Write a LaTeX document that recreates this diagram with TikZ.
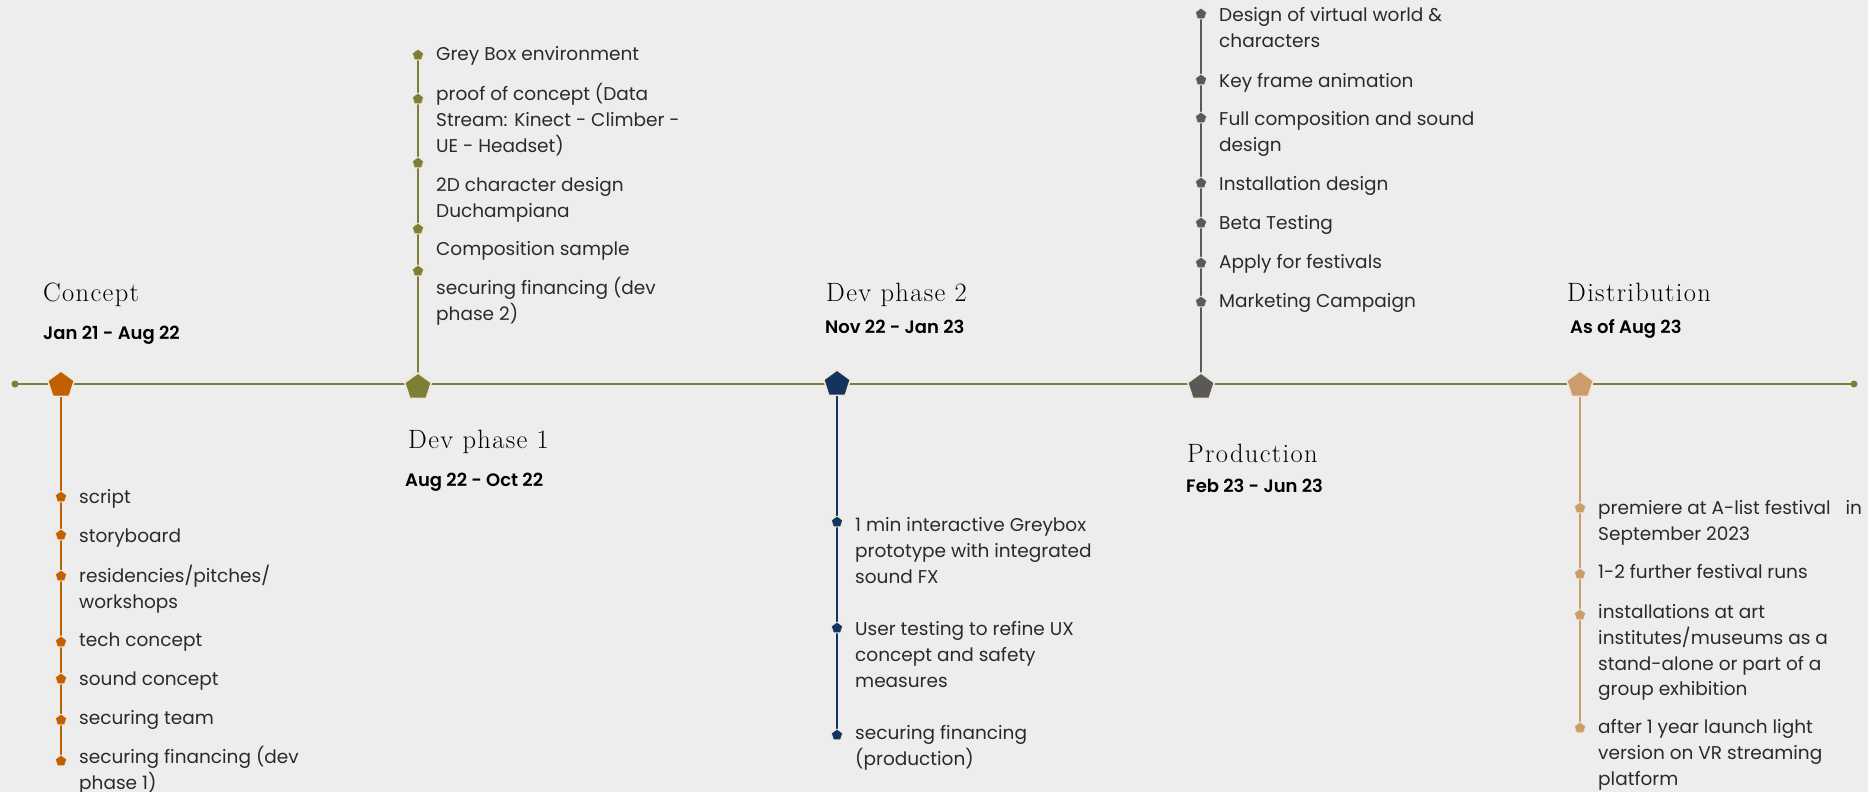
\documentclass[tikz,border=0pt]{standalone}
\usepackage{fontspec}
\setmainfont{Poppins}
\newfontfamily\datefont{Poppins SemiBold}
\newfontfamily\titlefont{Latin Modern Roman}[LetterSpace=5]
\usetikzlibrary{shapes.geometric}
\definecolor{bgc}{HTML}{EDEDED}
\definecolor{olivec}{HTML}{7E7F37}
\definecolor{orangec}{HTML}{C06000}
\definecolor{navyc}{HTML}{12345F}
\definecolor{greyc}{HTML}{595959}
\definecolor{tanc}{HTML}{CC9D6C}
\definecolor{rimc}{HTML}{F2E6D8}
\definecolor{txtc}{HTML}{2A2A2A}
\pgfdeclarelayer{bg}
\pgfsetlayers{bg,main}
\begin{document}
\begin{tikzpicture}[x=1pt,y=-1pt,
  phasebig/.style={regular polygon, regular polygon sides=5, minimum size=28pt, inner sep=0pt, draw=rimc, line width=1.5pt, fill=#1},
  phasemk/.style={regular polygon, regular polygon sides=5, minimum size=12pt, inner sep=0pt, draw=rimc, line width=0.8pt, fill=#1},
  endot/.style={circle, fill=olivec, minimum size=7pt, inner sep=0pt},
  itemtxt/.style={anchor=base west, align=left, inner sep=0pt, yshift=-1.5pt, font=\fontsize{18.5}{25.8}\selectfont, text=txtc},
  xl/.style={yshift=-#1*25.8pt},
  titletxt/.style={anchor=base west, inner sep=0pt, font=\titlefont\fontsize{26.5}{30}\selectfont, text=black},
  datetxt/.style={anchor=base west, inner sep=0pt, font=\datefont\fontsize{18}{22}\selectfont, text=black},
  vline/.style={line width=2pt, draw=#1}]
\useasboundingbox (0,0) rectangle (1868,792);
\begin{pgfonlayer}{bg}
\fill[bgc] (0,0) rectangle (1868,792);
\end{pgfonlayer}

% timeline ends
\node[endot] (L) at (15,384) {};
\node[endot] (R) at (1854,384) {};

% ---- Concept
\node[phasebig=orangec] (P1) at (61,385) {};
\node[titletxt] (T1) at (43,301) {Concept};
\node[datetxt] (D1) at (43,339) {Jan 21 - Aug 22};
\node[phasemk=orangec] (m1a) at (61,497) {};
\node[phasemk=orangec] (m1b) at (61,535) {};
\node[phasemk=orangec] (m1c) at (61,576) {};
\node[phasemk=orangec] (m1d) at (61,642) {};
\node[phasemk=orangec] (m1e) at (61,679) {};
\node[phasemk=orangec] (m1f) at (61,720) {};
\node[phasemk=orangec] (m1g) at (61,761) {};
\node[itemtxt] (t1a) at (79,502) {script};
\node[itemtxt] (t1b) at (79,541) {storyboard};
\node[itemtxt, xl=1] (t1c) at (79,581) {residencies/pitches/\\workshops};
\node[itemtxt] (t1d) at (79,645) {tech concept};
\node[itemtxt] (t1e) at (79,684) {sound concept};
\node[itemtxt] (t1f) at (79,723) {securing team};
\node[itemtxt, xl=1] (t1g) at (79,762) {securing financing (dev\\phase 1)};

% ---- Dev phase 1
\node[phasebig=olivec] (P2) at (418,387) {};
\node[titletxt] (T2) at (408,448) {Dev phase 1};
\node[datetxt] (D2) at (405,486) {Aug 22 - Oct 22};
\node[phasemk=olivec] (m2a) at (418,55) {};
\node[phasemk=olivec] (m2b) at (418,99) {};
\node[phasemk=olivec] (m2c) at (418,163) {};
\node[phasemk=olivec] (m2d) at (418,229) {};
\node[phasemk=olivec] (m2e) at (418,271) {};
\node[itemtxt] (t2a) at (436,59) {Grey Box environment};
\node[itemtxt, xl=2] (t2b) at (436,99) {proof of concept (Data\\Stream: Kinect - Climber -\\UE - Headset)};
\node[itemtxt, xl=1] (t2c) at (436,190) {2D character design\\Duchampiana};
\node[itemtxt] (t2d) at (436,254) {Composition sample};
\node[itemtxt, xl=1] (t2e) at (436,293) {securing financing (dev\\phase 2)};

% ---- Dev phase 2
\node[phasebig=navyc] (P3) at (837,384) {};
\node[titletxt] (T3) at (826,301) {Dev phase 2};
\node[datetxt] (D3) at (825,333) {Nov 22 - Jan 23};
\node[phasemk=navyc] (m3a) at (837,522) {};
\node[phasemk=navyc] (m3b) at (837,628) {};
\node[phasemk=navyc] (m3c) at (837,735) {};
\node[itemtxt, xl=2] (t3a) at (855,530) {1 min interactive Greybox\\prototype with integrated\\sound FX};
\node[itemtxt, xl=2] (t3b) at (855,634) {User testing to refine UX\\concept and safety\\measures};
\node[itemtxt, xl=1] (t3c) at (855,738) {securing financing\\(production)};

% ---- Production
\node[phasebig=greyc] (P4) at (1201,387) {};
\node[titletxt] (T4) at (1187,462) {Production};
\node[datetxt] (D4) at (1186,492) {Feb 23 - Jun 23};
\node[phasemk=greyc] (m4a) at (1201,14) {};
\node[phasemk=greyc] (m4b) at (1201,80) {};
\node[phasemk=greyc] (m4c) at (1201,118) {};
\node[phasemk=greyc] (m4d) at (1201,183) {};
\node[phasemk=greyc] (m4e) at (1201,223) {};
\node[phasemk=greyc] (m4f) at (1201,263) {};
\node[phasemk=greyc] (m4g) at (1201,302) {};
\node[itemtxt, xl=1] (t4a) at (1219,20) {Design of virtual world \&\\characters};
\node[itemtxt] (t4b) at (1219,86) {Key frame animation};
\node[itemtxt, xl=1] (t4c) at (1219,124) {Full composition and sound\\design};
\node[itemtxt] (t4d) at (1219,189) {Installation design};
\node[itemtxt] (t4e) at (1219,228) {Beta Testing};
\node[itemtxt] (t4f) at (1219,267) {Apply for festivals};
\node[itemtxt] (t4g) at (1219,306) {Marketing Campaign};

% ---- Distribution
\node[phasebig=tanc] (P5) at (1580,385) {};
\node[titletxt] (T5) at (1567,301) {Distribution};
\node[datetxt] (D5) at (1570,333) {As of Aug 23};
\node[phasemk=tanc] (m5a) at (1580,508) {};
\node[phasemk=tanc] (m5b) at (1580,574) {};
\node[phasemk=tanc] (m5c) at (1580,615) {};
\node[phasemk=tanc] (m5d) at (1580,728) {};
\node[itemtxt, xl=1] (t5a) at (1598,513) {premiere at A-list festival\ \ \ in\\September 2023};
\node[itemtxt] (t5b) at (1598,577) {1-2 further festival runs};
\node[itemtxt, xl=3] (t5c) at (1598,617) {installations at art\\institutes/museums as a\\stand-alone or part of a\\group exhibition};
\node[itemtxt, xl=2] (t5d) at (1598,732) {after 1 year launch light\\version on VR streaming\\platform};

\begin{pgfonlayer}{bg}
\draw[line width=2.2pt, olivec] (L.center) -- (R.center);
\draw[vline=orangec] (P1.center) -- (m1g.center);
\draw[vline=olivec] (m2a.center) -- (P2.center);
\draw[vline=navyc] (P3.center) -- (m3c.center);
\draw[vline=greyc] (m4a.center) -- (P4.center);
\draw[vline=tanc] (P5.center) -- (m5d.center);
\end{pgfonlayer}
\end{tikzpicture}
\end{document}
